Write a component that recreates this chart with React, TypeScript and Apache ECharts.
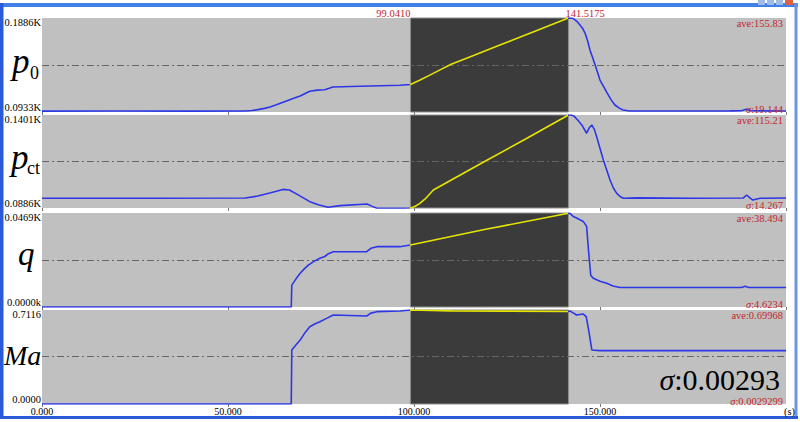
import React, { useEffect, useRef } from "react";
import * as echarts from "echarts";

// ---------- data ----------
const windowStart = 99.041;
const windowEnd = 141.5175;
const windowStartLabel = "99.0410";
const windowEndLabel = "141.5175";
const xMin = 0;
const xMax = 200;
const xInterval = 50;

const p0Time = [0, 20, 40, 54.6, 56.5, 58, 59.8, 61.3, 63, 65, 67.3, 69.4, 71, 72, 74, 76, 77.2, 78.2, 85.5, 96.2, 99.041,
  101.5, 104, 107, 110, 116, 123.1, 132, 141.5175,
  142.7, 143.7, 144.6, 145.4, 146, 146.7, 147.3, 148.7, 150, 151.9, 153, 154, 155.2, 156.2, 158, 170, 185, 188, 189.3, 190.5, 200];
const p0Values = [94.2, 94.3, 94.2, 94.3, 94.8, 95.7, 97, 98.4, 100.6, 103.5, 106.8, 109.5, 112.5, 114.3, 115.5, 115.9, 117.3, 118.6, 119.4, 120.4, 121.2,
  125.4, 130.2, 136, 141.7, 150.6, 161.2, 174.5, 188.6,
  188.3, 185.5, 181.5, 177.6, 173.1, 165, 156.2, 141, 125.7, 112.6, 105.6, 100.4, 97.2, 95.3, 94.3, 94.3, 94.4, 94.5, 96.2, 94.5, 94.3];

const pctTime = [0, 30, 54.6, 58, 61.5, 64.8, 66.5, 68.5, 72, 74.5, 76.9, 80.1, 87.4, 88.8, 90, 96.2, 99.041,
  100.2, 101.5, 103, 105.2, 118.6, 130, 141.5175,
  142.2, 143, 144, 145.1, 146.4, 147.1, 147.8, 148.5, 149.1, 150.9, 152.7, 153.6, 154.5, 155.4, 156.3, 160, 175, 188.5, 189.4, 190.3, 191.1, 193, 200];
const pctValues = [94.0, 94.0, 94.1, 95.2, 97, 98.9, 98.6, 96.3, 92.1, 90.3, 89.0, 89.9, 90.8, 89.5, 88.5, 88.4, 88.6,
  89.4, 91, 93.6, 98.6, 113.9, 126.8, 140.1,
  140.1, 139.5, 137.3, 134.6, 130.0, 133, 134.6, 132, 128.1, 115.2, 104.1, 99.7, 96.7, 95, 94.0, 94.2, 94.0, 94.1, 95.8, 94.2, 93.0, 94.0, 94.1];

const qTime = [0, 67.0, 67.15, 68.2, 69.4, 70.5, 71.6, 73.2, 74.7, 76, 77, 78.3, 87.3, 88.4, 90, 96.2, 99.041,
  118.6, 141.5175,
  141.9, 142.8, 143.7, 145.5, 146.4, 146.9, 147.5, 148.2, 150, 151.8, 153.5, 155.4, 188, 189, 190, 200];
const qValues = [0, 0, 10.9, 13.8, 16.8, 19, 20.9, 22.9, 24.3, 25.2, 26.6, 27.6, 27.6, 29.3, 30.1, 30.1, 30.9,
  38.5, 46.8,
  46.7, 45.2, 44.4, 42.7, 40.2, 28.5, 15.9, 14.3, 12.9, 11.8, 10.5, 9.75, 9.75, 10.3, 9.75, 9.75];

const maTime = [0, 67.0, 67.15, 68.2, 69.4, 70.7, 72, 73.3, 74.7, 76.5, 78.3, 87.3, 88.4, 90, 96.2, 99.041,
  110, 125, 141.5175,
  141.9, 142.8, 143.7, 145.5, 146.3, 147.1, 147.8, 150, 200];
const maValues = [0, 0, 0.409, 0.445, 0.484, 0.54, 0.585, 0.606, 0.623, 0.648, 0.674, 0.666, 0.688, 0.699, 0.704, 0.7116,
  0.705, 0.703, 0.700,
  0.704, 0.69, 0.674, 0.681, 0.661, 0.535, 0.409, 0.404, 0.404];

const yMins = [93.3, 88.6, 0, 0];
const yMaxs = [188.6, 140.1, 46.9, 0.7116];
const yMaxLabels = ["0.1886K", "0.1401K", "0.0469K", "0.7116"];
const yMinLabels = ["0.0933K", "0.0886K", "0.0000k", "0.0000"];
const aveLabels = ["ave:155.83", "ave:115.21", "ave:38.494", "ave:0.69968"];
const sigmaLabels = ["19.144", "14.267", "4.6234", "0.0029299"];
const bigSigmaLabel = "0.00293";
const unitLabel = "(s)";

// ---------- layout / style ----------
const W = 800;
const H = 422;
const GL = 42;
const GR = 786;
const tops = [18, 115, 213, 310];
const heights = [94, 93, 94, 94];
const SERIF = "'Liberation Serif', 'Times New Roman', 'DejaVu Serif', serif";
const BLUE = "#2c36e6";
const YELLOW = "#e4e400";
const RED = "#c4262c";
const FRAME = "#2a5ad8";

const seriesTimes = [p0Time, pctTime, qTime, maTime];
const seriesValues = [p0Values, pctValues, qValues, maValues];

const xPix = (t: number) => GL + ((t - xMin) / (xMax - xMin)) * (GR - GL);

export default function App() {
  const ref = useRef<HTMLDivElement>(null);
  useEffect(() => {
    if (!ref.current) return;
    const chart = echarts.init(ref.current, null, { renderer: "svg", width: W, height: H });

    const grid = tops.map((t, i) => ({
      left: GL,
      width: GR - GL,
      top: t,
      height: heights[i],
      show: true,
      backgroundColor: "#c0c0c0",
      borderWidth: 0,
    }));

    const xAxis = tops.map((_, i) => ({
      type: "value",
      gridIndex: i,
      min: xMin,
      max: xMax,
      interval: xInterval,
      axisLine: { show: false },
      axisTick: { show: true, length: 3, lineStyle: { color: "#777", width: 1 } },
      splitLine: { show: false },
      axisLabel: {
        show: i === 3,
        formatter: (v: number) => v.toFixed(3),
        fontSize: 10,
        color: "#000",
        fontFamily: SERIF,
        margin: 2,
        showMaxLabel: false,
      },
    }));

    const yAxis = tops.map((_, i) => ({
      type: "value",
      gridIndex: i,
      min: yMins[i],
      max: yMaxs[i],
      axisLine: { show: false },
      axisTick: { show: false },
      axisLabel: { show: false },
      splitLine: { show: false },
    }));

    const series = tops.map((_, i) => ({
      type: "line",
      xAxisIndex: i,
      yAxisIndex: i,
      showSymbol: false,
      symbol: "none",
      lineStyle: { width: 1.6 },
      data: seriesTimes[i].map((t, k) => [t, seriesValues[i][k]]),
      z: 5,
      markArea: {
        silent: true,
        itemStyle: { color: "#3b3b3b", borderColor: "#8e8e8e", borderWidth: 1 },
        data: [[{ xAxis: windowStart }, { xAxis: windowEnd }]],
      },
      markLine: {
        silent: true,
        symbol: ["none", "none"],
        label: { show: false },
        lineStyle: { color: "#666", width: 1, type: [7, 3, 2, 3] },
        data: [{ yAxis: (yMins[i] + yMaxs[i]) / 2 }],
      },
    }));

    const visualMap = tops.map((_, i) => ({
      type: "piecewise",
      show: false,
      seriesIndex: i,
      dimension: 0,
      pieces: [
        { lt: windowStart, color: BLUE },
        { gte: windowStart, lte: windowEnd, color: YELLOW },
        { gt: windowEnd, color: BLUE },
      ],
    }));

    const txt = (x: number, y: number, text: string, o: any = {}) => ({
      type: "text",
      x,
      y,
      z: 100,
      style: {
        text,
        fontFamily: SERIF,
        fontSize: 10.5,
        fill: "#000",
        align: "right",
        verticalAlign: "middle",
        ...o,
      },
    });

    const graphic: any[] = [
      // window frame
      { type: "rect", shape: { x: 0, y: 3, width: W - 2, height: 4 }, style: { fill: "#3f7fe6" } },
      { type: "rect", shape: { x: 0, y: 3, width: 3.5, height: 416 }, style: { fill: FRAME } },
      { type: "rect", shape: { x: 794.5, y: 3, width: 3, height: 416 }, style: { fill: "#6f95e0" } },
      { type: "rect", shape: { x: 0, y: 416, width: 798, height: 3 }, style: { fill: FRAME } },
      { type: "rect", shape: { x: 758, y: 0, width: 7, height: 5 }, style: { fill: "#9fbbe8" } },
      { type: "rect", shape: { x: 767, y: 0, width: 7, height: 5 }, style: { fill: "#9fbbe8" } },
      { type: "rect", shape: { x: 776, y: 0, width: 7, height: 5 }, style: { fill: "#9fbbe8" } },
      { type: "rect", shape: { x: 785, y: 0, width: 8, height: 5 }, style: { fill: "#e0603c" } },
      // window labels
      txt(xPix(windowStart), 13, windowStartLabel, { fill: RED }),
      txt(xPix(windowEnd) - 3, 13, windowEndLabel, { fill: RED, align: "left" }),
      // unit
      txt(795, 411, unitLabel),
      // big sigma
      {
        type: "text",
        x: 780,
        y: 379,
        z: 100,
        style: {
          text: "{i|σ}{n|:" + bigSigmaLabel + "}",
          align: "right",
          verticalAlign: "middle",
          fill: "#000",
          fontFamily: SERIF,
          fontSize: 30,
          rich: {
            i: { fontStyle: "italic", fontSize: 30, fontFamily: SERIF, fill: "#000" },
            n: { fontSize: 30, fontFamily: SERIF, fill: "#000" },
          },
        },
      },
      // panel names
      txt(12, 61, "p", { fontSize: 35, fontStyle: "italic", align: "left" }),
      txt(30, 73, "0", { fontSize: 18, align: "left" }),
      txt(11, 157, "p", { fontSize: 35, fontStyle: "italic", align: "left" }),
      txt(27, 168, "ct", { fontSize: 18, align: "left" }),
      txt(18, 254, "q", { fontSize: 33, fontStyle: "italic", align: "left" }),
      txt(4, 355, "Ma", { fontSize: 28, fontStyle: "italic", align: "left" }),
    ];

    tops.forEach((t, i) => {
      const b = t + heights[i];
      graphic.push(txt(41, t + 4.5, yMaxLabels[i]));
      graphic.push(txt(41, b - 4.5, yMinLabels[i]));
      graphic.push(txt(783, t + 5.5, aveLabels[i], { fill: RED }));
      graphic.push({
        type: "text",
        x: 783,
        y: b - 3,
        z: 100,
        style: {
          text: "{i|σ}{n|:" + sigmaLabels[i] + "}",
          align: "right",
          verticalAlign: "middle",
          fill: RED,
          fontFamily: SERIF,
          fontSize: 10.5,
          rich: {
            i: { fontStyle: "italic", fontSize: 10.5, fontFamily: SERIF, fill: RED },
            n: { fontSize: 10.5, fontFamily: SERIF, fill: RED },
          },
        },
      });
    });

    chart.setOption({
      animation: false,
      backgroundColor: "#fff",
      grid,
      xAxis,
      yAxis,
      visualMap,
      series,
      graphic,
    });
    return () => chart.dispose();
  }, []);

  return (
    <div
      ref={ref}
      style={{ position: "fixed", left: 0, top: 0, width: W, height: H, background: "#fff" }}
    />
  );
}
